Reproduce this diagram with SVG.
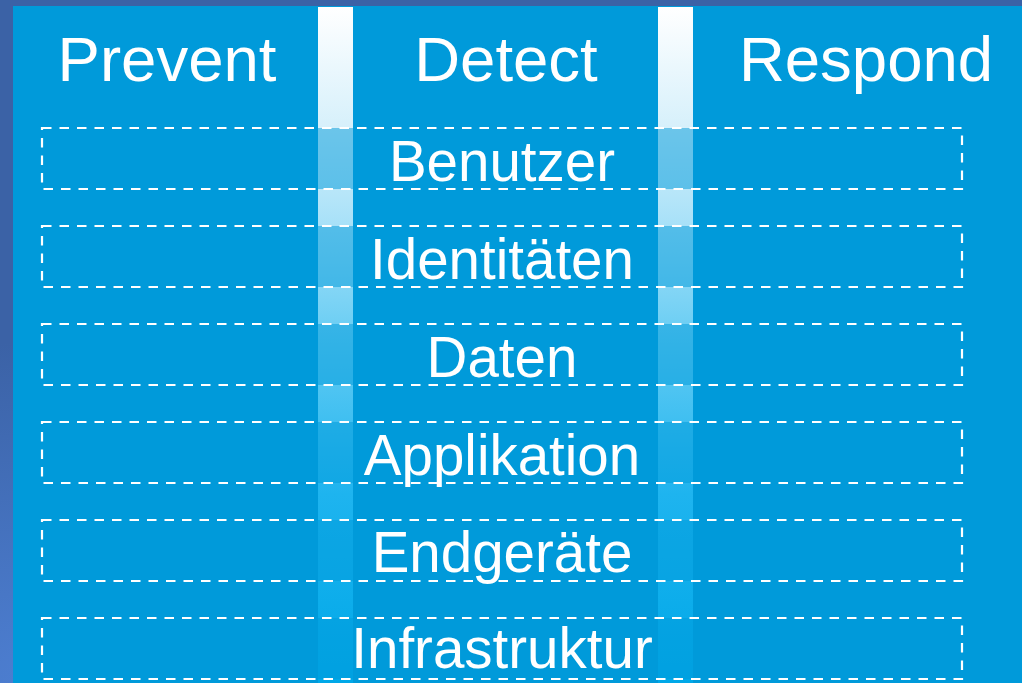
<svg xmlns="http://www.w3.org/2000/svg" width="1022" height="683" viewBox="0 0 1022 683">
<defs>
<linearGradient id="stripe" x1="0" y1="7" x2="0" y2="683" gradientUnits="userSpaceOnUse">
<stop offset="0" stop-color="#ffffff"/>
<stop offset="0.18" stop-color="#d6f0fb"/>
<stop offset="0.33" stop-color="#a5e0f8"/>
<stop offset="0.5" stop-color="#62cbf3"/>
<stop offset="0.72" stop-color="#1eb4ef"/>
<stop offset="1" stop-color="#00a8e8"/>
</linearGradient>
<radialGradient id="bg" cx="0.05" cy="1" r="0.5">
<stop offset="0" stop-color="#4d7fd2"/>
<stop offset="1" stop-color="#3b62a6"/>
</radialGradient>
<style>
.hdr{font-family:"Liberation Sans",Arial,sans-serif;font-size:63.5px;fill:#ffffff;text-anchor:middle}
.lbl{font-family:"Liberation Sans",Arial,sans-serif;font-size:56.5px;fill:#ffffff;text-anchor:middle}
.row{fill:#0099d9;fill-opacity:0.5;stroke:#ffffff;stroke-width:2.2;stroke-dasharray:9.5 8}
</style>
</defs>
<rect x="0" y="0" width="1022" height="683" fill="url(#bg)"/>
<rect x="13" y="6" width="1009" height="677" fill="#009ada"/>
<g id="stripes">
<rect x="318" y="7" width="35" height="676" fill="url(#stripe)"/>
<rect x="658" y="7" width="35" height="676" fill="url(#stripe)"/>
</g>
<g id="headers">
<text id="prevent" class="hdr" x="167" y="81">Prevent</text>
<text id="detect" class="hdr" x="506" y="81">Detect</text>
<text id="respond" class="hdr" x="866" y="81">Respond</text>
</g>
<g id="row-benutzer"><rect class="row" x="42" y="128" width="920" height="61"/><text class="lbl" x="502" y="181">Benutzer</text></g>
<g id="row-identitaeten"><rect class="row" x="42" y="226" width="920" height="61"/><text class="lbl" x="502" y="279">Identitäten</text></g>
<g id="row-daten"><rect class="row" x="42" y="324" width="920" height="61"/><text class="lbl" x="502" y="377">Daten</text></g>
<g id="row-applikation"><rect class="row" x="42" y="422" width="920" height="61"/><text class="lbl" x="502" y="475">Applikation</text></g>
<g id="row-endgeraete"><rect class="row" x="42" y="520" width="920" height="61"/><text class="lbl" x="502" y="572">Endgeräte</text></g>
<g id="row-infrastruktur"><rect class="row" x="42" y="618" width="920" height="61"/><text class="lbl" x="502" y="668">Infrastruktur</text></g>
<g id="connectors"/>
</svg>
